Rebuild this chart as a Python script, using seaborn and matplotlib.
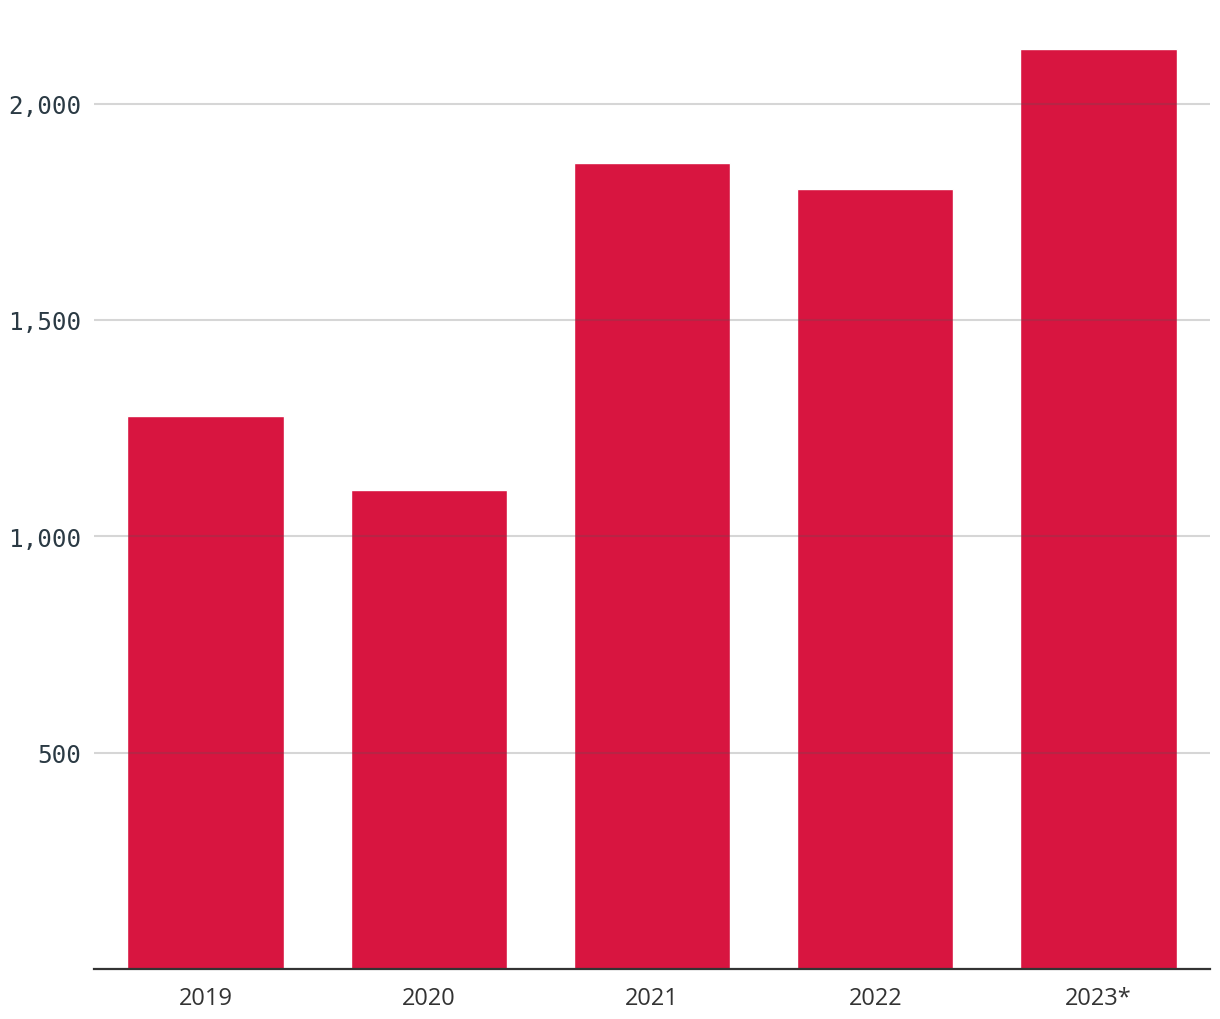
import matplotlib
matplotlib.use("Agg")
import matplotlib.pyplot as plt
import seaborn as sns
import pandas as pd

years = ["2019", "2020", "2021", "2022", "2023*"]
values = [1277, 1106, 1862, 1802, 2126]
yticks = [500, 1000, 1500, 2000]
ytick_labels = ["500", "1,000", "1,500", "2,000"]

sns.set_theme(style="white")
plt.rcParams["font.family"] = ["Open Sans", "DejaVu Sans"]

df = pd.DataFrame({"year": years, "value": values})

fig = plt.figure(figsize=(12.2, 10.2), dpi=100)
ax = fig.add_axes([94/1220, (1020-970)/1020, (1210-94)/1220, (970-18)/1020])

sns.barplot(data=df, x="year", y="value", color="#d81540", saturation=1,
            width=0.7, ax=ax, zorder=1)

ax.set_xlim(-0.5, 4.5)
ax.set_ylim(0, 2200)
ax.set_yticks(yticks)
ax.set_yticklabels(ytick_labels, family="DejaVu Sans Mono", fontsize=17.5, color="#2b3a44")
for y in yticks:
    ax.axhline(y, color="#555555", alpha=0.24, linewidth=1.5, zorder=3)
ax.tick_params(axis="y", length=0, pad=9)
ax.tick_params(axis="x", length=0, pad=12, labelsize=17, labelcolor="#333333")
ax.set_xlabel("")
ax.set_ylabel("")
for s in ["top", "right", "left"]:
    ax.spines[s].set_visible(False)
ax.spines["bottom"].set_color("#333333")
ax.spines["bottom"].set_linewidth(1.6)
ax.spines["bottom"].set_zorder(4)

fig.savefig("out.png", dpi=100, facecolor="white")
